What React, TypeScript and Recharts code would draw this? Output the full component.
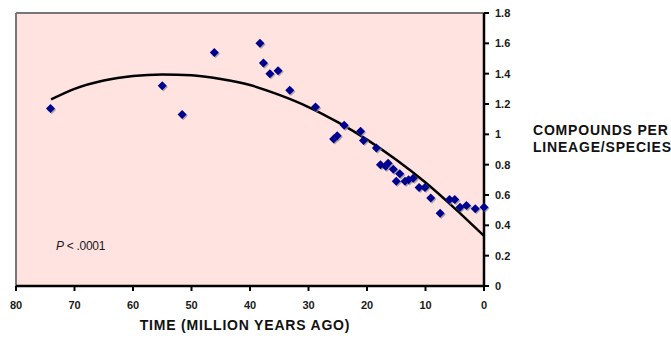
import {
  ComposedChart,
  CartesianGrid,
  Line,
  ReferenceLine,
  Scatter,
  XAxis,
  YAxis,
} from 'recharts';

// million years ago
const ages = [
  74.1, 55.0, 51.6, 46.1, 38.3, 37.7, 36.6, 35.2, 33.2, 28.8, 25.7, 25.1, 23.9, 21.1, 20.6, 18.4,
  17.7, 16.8, 16.4, 15.5, 14.4, 15.0, 13.5, 12.9, 12.1, 11.1, 10.1, 9.1, 7.5, 5.9, 5.0, 4.1, 3.0,
  1.5, 0.0,
];
// compounds per lineage/species
const compounds = [
  1.17, 1.32, 1.13, 1.54, 1.6, 1.47, 1.4, 1.42, 1.29, 1.18, 0.97, 0.99, 1.06, 1.02, 0.96, 0.91,
  0.8, 0.79, 0.81, 0.77, 0.74, 0.69, 0.69, 0.7, 0.71, 0.65, 0.65, 0.58, 0.48, 0.57, 0.57, 0.52,
  0.53, 0.51, 0.52,
];

// trend curve
const trendAges = [74, 70, 65, 60, 55, 50, 45, 40, 35, 30, 25, 20, 15, 10, 5, 0];
const trendValues = [
  1.23, 1.3, 1.355, 1.385, 1.395, 1.39, 1.365, 1.325, 1.26, 1.18, 1.08, 0.965, 0.832, 0.682, 0.512,
  0.33,
];

const xTicks = [0, 10, 20, 30, 40, 50, 60, 70, 80];
const yTicks = [0, 0.2, 0.4, 0.6, 0.8, 1, 1.2, 1.4, 1.6, 1.8];

const points = ages.map((x, i) => ({ x, y: compounds[i] }));
const trend = trendAges.map((x, i) => ({ x, y: trendValues[i] }));

const FONT = '"Liberation Sans", Arial, sans-serif';
const tickStyle = { fontSize: 11, fontWeight: 700, fill: '#1a1a1a', fontFamily: FONT };

function Diamond(props: any) {
  const { cx, cy } = props;
  if (cx == null || cy == null) return null;
  const r = 4.5;
  const d = (ox: number, oy: number) =>
    `M${cx + ox},${cy + oy - r} L${cx + ox + r},${cy + oy} L${cx + ox},${cy + oy + r} L${cx + ox - r},${cy + oy} Z`;
  return (
    <g>
      <path d={d(1.2, 1.2)} fill="#8a8a8a" opacity={0.7} />
      <path d={d(0, 0)} fill="#000090" />
    </g>
  );
}

export default function App() {
  return (
    <div style={{ position: 'absolute', left: 0, top: 0, width: 671, height: 339, background: '#fff' }}>
      <ComposedChart
        width={671}
        height={339}
        margin={{ top: 13, right: 147, bottom: 23, left: 16 }}
      >
        <CartesianGrid horizontal={false} vertical={false} fill="#ffe3e0" />
        <XAxis
          type="number"
          dataKey="x"
          domain={[0, 80]}
          ticks={xTicks}
          reversed
          height={30}
          tick={tickStyle}
          tickSize={5}
          tickMargin={10}
          axisLine={{ stroke: '#000', strokeWidth: 2.5 }}
          tickLine={{ stroke: '#000', strokeWidth: 2 }}
        />
        <YAxis
          type="number"
          dataKey="y"
          orientation="right"
          domain={[0, 1.8]}
          ticks={yTicks}
          width={40}
          tick={{ ...tickStyle, textAnchor: 'start' }}
          tickSize={5}
          tickMargin={6}
          axisLine={{ stroke: '#000', strokeWidth: 2.5 }}
          tickLine={{ stroke: '#000', strokeWidth: 2 }}
        />
        <ReferenceLine y={1.8} stroke="#777" strokeWidth={2} />
        <ReferenceLine x={80} stroke="#777" strokeWidth={2} />
        <Line
          data={trend}
          dataKey="y"
          type="monotone"
          stroke="#000"
          strokeWidth={2.5}
          dot={false}
          activeDot={false}
          isAnimationActive={false}
        />
        <Scatter data={points} dataKey="y" shape={Diamond} isAnimationActive={false} />
      </ComposedChart>
      <div
        style={{
          position: 'absolute',
          left: 56,
          top: 239,
          fontFamily: FONT,
          fontSize: 12,
          color: '#1a1a1a',
          letterSpacing: -0.3,
          whiteSpace: 'nowrap',
        }}
      >
        <i>P</i> &lt; .0001
      </div>
      <div
        style={{
          position: 'absolute',
          left: 0,
          width: 490,
          top: 317,
          textAlign: 'center',
          fontFamily: FONT,
          fontSize: 14,
          fontWeight: 900,
          color: '#111',
          letterSpacing: 0.8,
          whiteSpace: 'nowrap',
        }}
      >
        TIME (MILLION YEARS AGO)
      </div>
      <div
        style={{
          position: 'absolute',
          left: 533,
          top: 122,
          fontFamily: FONT,
          fontSize: 14,
          fontWeight: 900,
          lineHeight: '17px',
          color: '#111',
          letterSpacing: 0.8,
          whiteSpace: 'nowrap',
        }}
      >
        COMPOUNDS PER
        <br />
        LINEAGE/SPECIES
      </div>
    </div>
  );
}
